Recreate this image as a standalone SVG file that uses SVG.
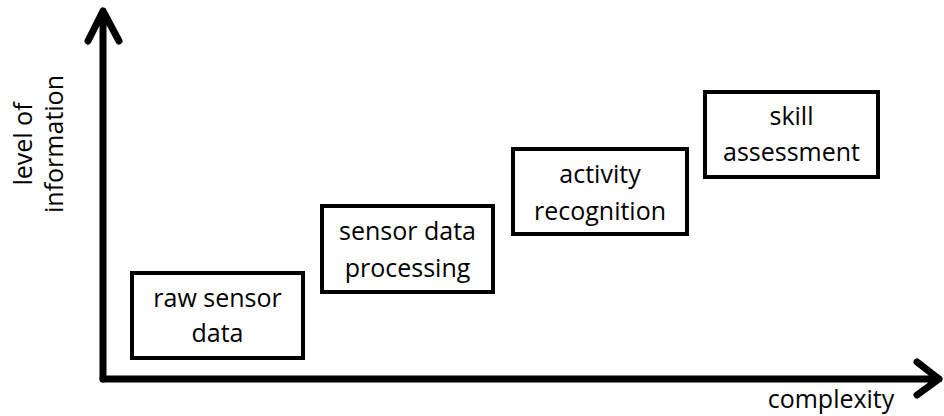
<svg xmlns="http://www.w3.org/2000/svg" width="944" height="416" viewBox="0 0 944 416">
<style>
.axis{fill:none;stroke:#000;stroke-width:7;stroke-linecap:round;stroke-linejoin:round}
.box{fill:#fff;stroke:#000;stroke-width:4}
text{font-family:"Open Sans","Noto Sans","Liberation Sans",sans-serif;font-size:25px;fill:#000;text-anchor:middle}
</style>
<rect width="944" height="416" fill="#fff"/>
<g id="connectors">
<path class="axis" d="M103,379 V11 M88,41 L103,11 L119,41"/>
<path class="axis" d="M103,379 H939 M917,362 L939,379 L917,395"/>
</g>
<g id="axis-y-label">
<text transform="translate(32,144) rotate(-90)">level of</text>
<text transform="translate(63,144) rotate(-90)">information</text>
</g>
<g id="axis-x-label">
<text x="831" y="408">complexity</text>
</g>
<g id="raw-sensor-data">
<rect class="box" x="132" y="273" width="171" height="85"/>
<text x="217.5" y="307">raw sensor</text>
<text x="217.5" y="342">data</text>
</g>
<g id="sensor-data-processing">
<rect class="box" x="322" y="206" width="171" height="86"/>
<text x="407.5" y="240">sensor data</text>
<text x="407.5" y="277">processing</text>
</g>
<g id="activity-recognition">
<rect class="box" x="513" y="149" width="174" height="85"/>
<text x="600" y="183">activity</text>
<text x="600" y="220">recognition</text>
</g>
<g id="skill-assessment">
<rect class="box" x="705" y="92" width="173" height="85"/>
<text x="791.5" y="125">skill</text>
<text x="791.5" y="161">assessment</text>
</g>
</svg>
